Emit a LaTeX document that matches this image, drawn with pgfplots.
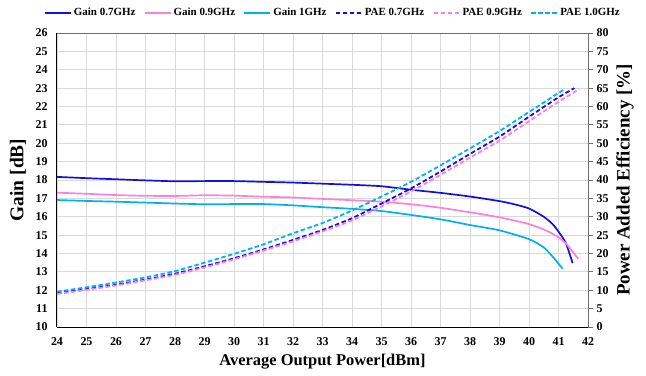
\documentclass[border=0pt]{standalone}
\usepackage{fontspec}
\setmainfont{Liberation Serif}
\usepackage{pgfplots}
\pgfplotsset{compat=1.18}
\definecolor{cblue}{RGB}{16,16,230}
\definecolor{cpink}{RGB}{255,128,220}
\definecolor{ccyan}{RGB}{0,176,240}
\definecolor{gridc}{RGB}{217,217,217}
\definecolor{raxis}{RGB}{110,110,110}
\tikzset{gainline/.style={line width=1.7bp},
         paeline/.style={line width=1.8bp, dash pattern=on 4.5bp off 2.5bp}}
\begin{document}
\begin{tikzpicture}
\useasboundingbox (-57bp,-49bp) rectangle (589bp,327bp);
\begin{axis}[at={(0,0)}, anchor=south west, scale only axis,
  width=531bp, height=294bp,
  xmin=24, xmax=42, ymin=10, ymax=26,
  xtick={24,...,42}, ytick={10,...,26},
  grid=major, major grid style={gridc, line width=0.8bp},
  axis x line*=bottom, axis y line*=left,
  axis line style={black, line width=1bp, -},
  major tick length=0pt, tick style={draw=none},
  /pgf/number format/assume math mode=true,
  ticklabel style={font=\fontsize{12}{14}\selectfont\bfseries},
  xticklabel style={yshift=-7bp},
  yticklabel style={xshift=-6bp},
  xlabel={Average Output Power[dBm]}, ylabel={Gain [dB]},
  xlabel style={font=\fontsize{16.5}{19}\selectfont\bfseries, at={(rel axis cs:0.5,-0.119)}, anchor=center},
  ylabel style={font=\fontsize{19.5}{22}\selectfont\bfseries, at={(rel axis cs:-0.0734,0.5)}, anchor=center},
  no markers, smooth, tension=0.4]
\addplot[cblue, gainline] coordinates {(24,18.17) (25,18.10) (26,18.04) (27,17.98) (28,17.93) (29,17.94) (30,17.94) (31,17.90) (32,17.86) (33,17.80) (34,17.74) (35,17.66) (36,17.47) (37,17.30) (38,17.10) (39,16.85) (39.5,16.68) (40,16.45) (40.5,16.0) (40.8,15.6) (41,15.19) (41.25,14.56) (41.48,13.47)};
\addplot[cpink, gainline] coordinates {(24,17.31) (25,17.25) (26,17.18) (27,17.14) (28,17.13) (29,17.17) (30,17.15) (31,17.09) (32,17.05) (33,16.97) (34,16.90) (35,16.82) (36,16.68) (37,16.49) (38,16.24) (39,15.97) (40,15.60) (40.6,15.24) (41,14.88) (41.3,14.46) (41.67,13.70)};
\addplot[ccyan, gainline] coordinates {(24,16.91) (25,16.86) (26,16.82) (27,16.77) (28,16.72) (29,16.68) (30,16.69) (31,16.69) (32,16.62) (33,16.52) (34,16.43) (35,16.31) (36,16.10) (37,15.86) (38,15.55) (39,15.26) (40,14.78) (40.5,14.33) (40.8,13.83) (41.14,13.17)};
\end{axis}
\begin{axis}[at={(0,0)}, anchor=south west, scale only axis,
  width=531bp, height=294bp,
  xmin=24, xmax=42, ymin=0, ymax=80,
  ytick={0,5,...,80}, xtick=\empty,
  axis x line*=top, axis y line*=right,
  axis line style={raxis, line width=1bp, -},
  ytick style={raxis, line width=1bp}, major tick length=5bp, tick align=outside,
  /pgf/number format/assume math mode=true,
  ticklabel style={font=\fontsize{12}{14}\selectfont\bfseries},
  ylabel={Power Added Efficiency [\%]},
  ylabel style={font=\fontsize{19}{22}\selectfont\bfseries, at={(rel axis cs:1.0697,0.5)}, anchor=center},
  legend columns=6,
  legend cell align=left,
  legend style={draw=none, fill=none, at={(0.5198,1.069)}, anchor=center,
    font=\fontsize{11}{13}\selectfont\bfseries, inner sep=0pt,
    /tikz/every even column/.append style={column sep=6.5bp}},
  legend image code/.code={\draw[#1] (0bp,0bp) -- (26bp,0bp);},
  no markers, smooth, tension=0.4]
\addlegendimage{cblue, gainline}
\addlegendentry{Gain 0.7GHz}
\addlegendimage{cpink, gainline}
\addlegendentry{Gain 0.9GHz}
\addlegendimage{ccyan, gainline}
\addlegendentry{Gain 1GHz}
\addplot[cblue, paeline] coordinates {(24,9.2) (25,10.3) (26,11.5) (27,12.9) (28,14.5) (29,16.5) (30,18.7) (31,21.1) (32,23.7) (33,26.4) (34,29.6) (35,33.6) (36,37.7) (37,42.3) (38,47.1) (39,51.8) (40,57.2) (41,62.5) (41.54,65.0)};
\addlegendentry{PAE 0.7GHz}
\addplot[cpink, paeline] coordinates {(24,9.0) (25,10.1) (26,11.3) (27,12.7) (28,14.2) (29,16.2) (30,18.4) (31,20.8) (32,23.3) (33,26.0) (34,29.0) (35,32.8) (36,36.9) (37,41.4) (38,46.1) (39,50.7) (40,56.0) (41,61.3) (41.7,64.7)};
\addlegendentry{PAE 0.9GHz}
\addplot[ccyan, paeline] coordinates {(24,9.6) (25,10.8) (26,12.1) (27,13.5) (28,15.2) (29,17.5) (30,19.9) (31,22.5) (32,25.5) (33,28.3) (34,31.7) (35,35.5) (36,39.5) (37,44.0) (38,48.6) (39,53.3) (40,58.5) (40.6,61.6) (41,63.7) (41.17,64.5)};
\addlegendentry{PAE 1.0GHz}
\end{axis}
\end{tikzpicture}
\end{document}
